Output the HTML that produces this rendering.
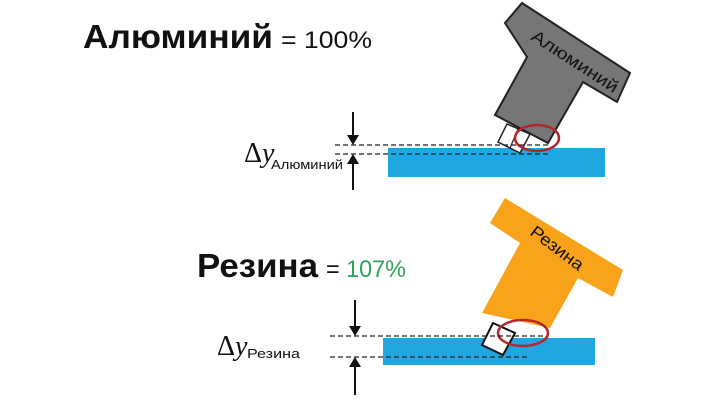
<!DOCTYPE html>
<html><head><meta charset="utf-8"><style>
body{margin:0;background:#fff;}
svg{display:block;font-family:"Liberation Sans",sans-serif;}
</style></head><body>
<svg width="716" height="401" viewBox="0 0 716 401">
<!-- Top -->
<text x="83" y="48" font-size="33" font-weight="bold" fill="#111" textLength="190" lengthAdjust="spacingAndGlyphs">Алюминий</text>
<text x="281" y="48" font-size="24" fill="#111" textLength="91" lengthAdjust="spacingAndGlyphs">= 100%</text>
<rect x="388" y="148" width="217" height="29" fill="#1ea7e1"/>
<polygon points="522,3 630,73 617,102 583,82 548,143 495,115 527,57 505,23" fill="#767676" stroke="#222" stroke-width="2"/>
<text transform="translate(530,39) rotate(33)" font-size="17" fill="#111" textLength="100" lengthAdjust="spacingAndGlyphs">Алюминий</text>
<polygon points="507,124 498,142 520,153 530,134" fill="#fff" stroke="#222" stroke-width="1.5"/>
<line x1="518" y1="129" x2="510" y2="148" stroke="#222" stroke-width="1.2"/>
<ellipse cx="537" cy="138" rx="22" ry="13" fill="none" stroke="#b3262b" stroke-width="2.5"/>
<line x1="335" y1="145" x2="548" y2="145" stroke="#222" stroke-width="1.3" stroke-dasharray="5,3"/>
<line x1="335" y1="154" x2="548" y2="154" stroke="#222" stroke-width="1.3" stroke-dasharray="5,3"/>
<line x1="353" y1="112" x2="353" y2="138" stroke="#111" stroke-width="2"/>
<polygon points="347,135 359,135 353,145" fill="#111"/>
<line x1="353" y1="162" x2="353" y2="190" stroke="#111" stroke-width="2"/>
<polygon points="347,164 359,164 353,154" fill="#111"/>
<text x="244" y="162" font-size="28" font-family="Liberation Serif,serif" fill="#111">Δ<tspan font-style="italic">y</tspan></text>
<text x="271" y="169" font-size="13" fill="#111" textLength="72" lengthAdjust="spacingAndGlyphs">Алюминий</text>
<!-- Bottom -->
<text x="197" y="277" font-size="33" font-weight="bold" fill="#111" textLength="121" lengthAdjust="spacingAndGlyphs">Резина</text>
<text x="326" y="277" font-size="24" fill="#111" textLength="80" lengthAdjust="spacingAndGlyphs">= <tspan fill="#2ea35a">107%</tspan></text>
<rect x="383" y="338" width="212" height="27" fill="#1ea7e1"/>
<polygon points="505,198 623,270 613,297 578,278 550,328 482,313 520,243 490,223" fill="#f9a31a"/>
<text transform="translate(529,234) rotate(37)" font-size="17" fill="#111" textLength="62" lengthAdjust="spacingAndGlyphs">Резина</text>
<polygon points="493,323 482,345 503,355 515,333" fill="#fff" stroke="#111" stroke-width="2"/>
<ellipse cx="523" cy="333" rx="25" ry="13" fill="none" stroke="#b3262b" stroke-width="2.5"/>
<line x1="330" y1="336" x2="545" y2="336" stroke="#222" stroke-width="1.3" stroke-dasharray="5,3"/>
<line x1="330" y1="357" x2="530" y2="357" stroke="#222" stroke-width="1.3" stroke-dasharray="5,3"/>
<line x1="355" y1="300" x2="355" y2="328" stroke="#111" stroke-width="2"/>
<polygon points="349,326 361,326 355,336" fill="#111"/>
<line x1="355" y1="366" x2="355" y2="395" stroke="#111" stroke-width="2"/>
<polygon points="349,367 361,367 355,357" fill="#111"/>
<text x="217" y="355" font-size="28" font-family="Liberation Serif,serif" fill="#111">Δ<tspan font-style="italic">y</tspan></text>
<text x="247" y="358" font-size="13" fill="#111" textLength="53" lengthAdjust="spacingAndGlyphs">Резина</text>
</svg>
</body></html>
